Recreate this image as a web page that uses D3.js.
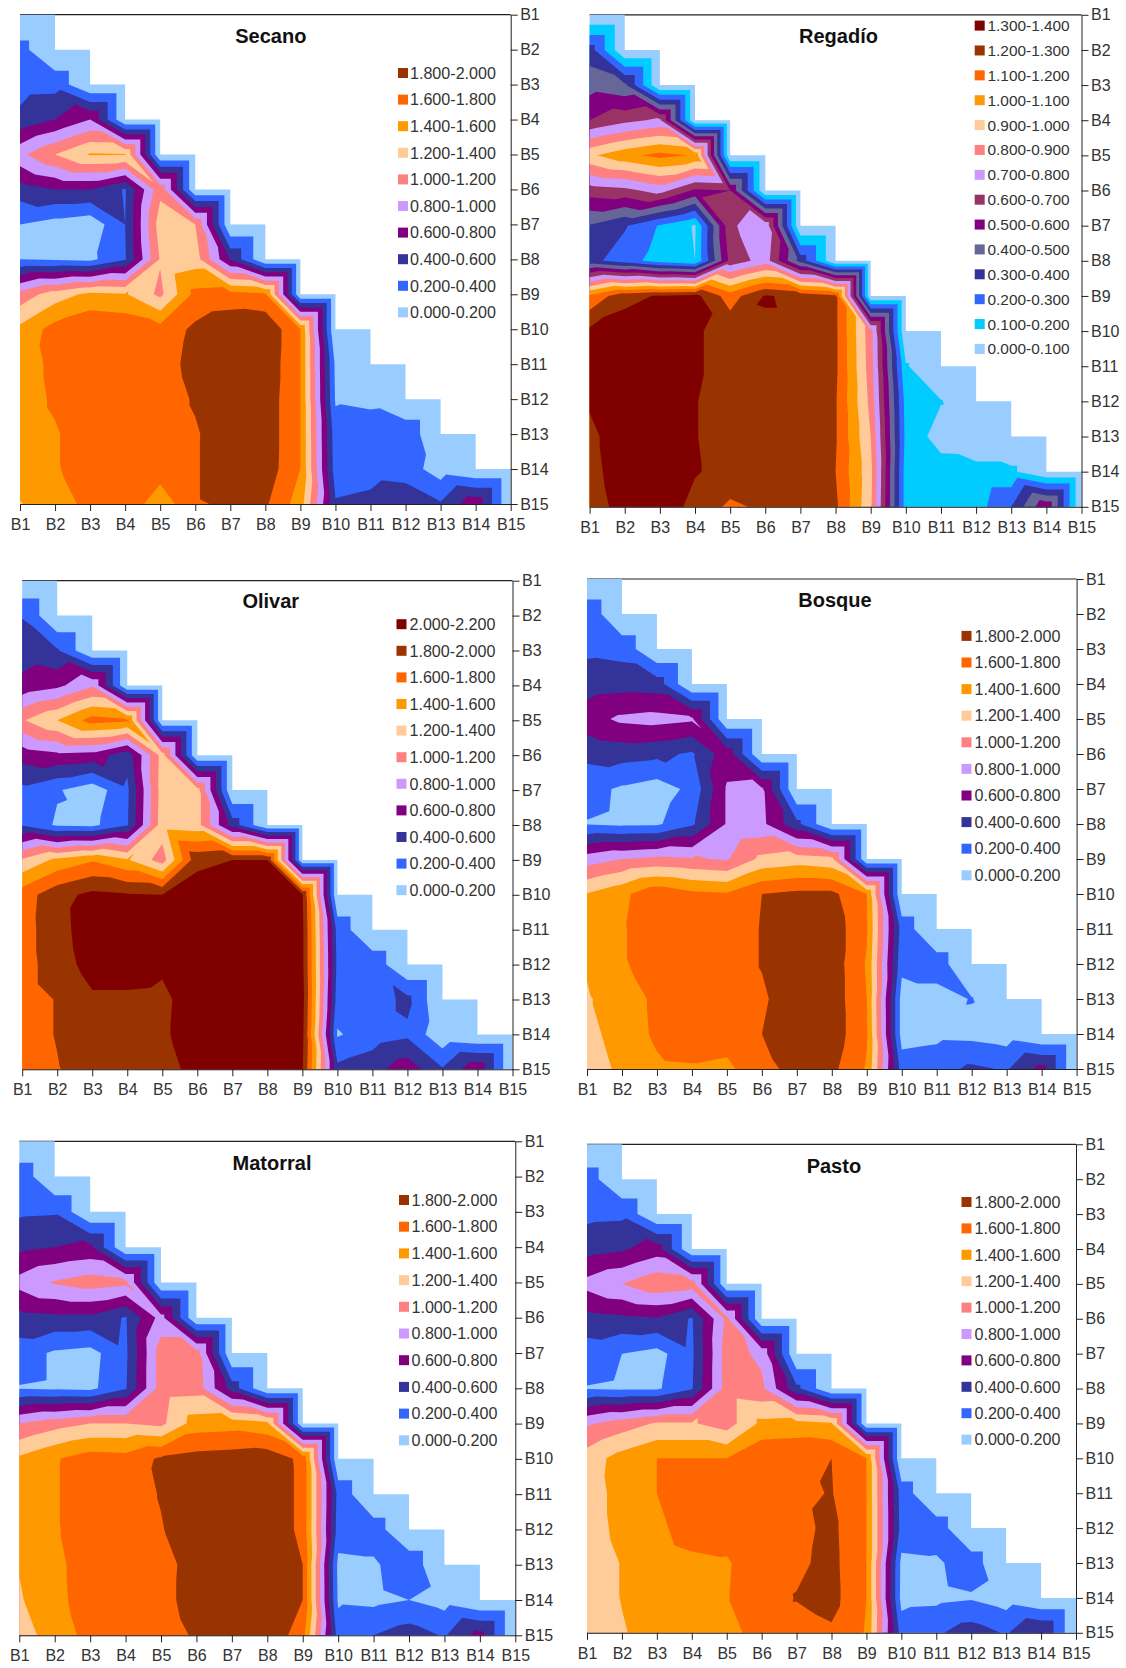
<!DOCTYPE html>
<html lang="en">

<head>
    <meta charset="UTF-8">
    <title>Contornos</title>
    <script src="https://d3js.org/d3.v7.min.js"></script>
    <style>
        body { margin: 0; background: #fff; }
        text { font-family: "Liberation Sans", Arial, sans-serif; }
    </style>
</head>

<body>
    <script>
        var blocks = ["B1", "B2", "B3", "B4", "B5", "B6", "B7", "B8", "B9", "B10", "B11", "B12", "B13", "B14", "B15"];

        // lower triangle only, rows B2..B15 and columns B1..; diagonal and above count as 0
        var secano = [
            [.27],
            [.32, .33],
            [.45, .6, .8],
            [.95, 1.2, 1.42, 1.41],
            [.5, .6, .6, .38, 1.15],
            [.2, .12, .06, .4, 1.3, 1.2],
            [.2, .18, .15, .38, 1.22, 1.3, .58],
            [1.08, 1.3, 1.45, 1.42, 1.15, 1.66, 1.68, 1.63],
            [1.45, 1.68, 1.78, 1.75, 1.68, 1.84, 1.95, 1.97, 1.6],
            [1.5, 1.65, 1.78, 1.75, 1.72, 1.86, 1.95, 1.95, 1.6, .16],
            [1.5, 1.63, 1.75, 1.72, 1.7, 1.82, 1.93, 1.93, 1.6, .18, .15],
            [1.5, 1.58, 1.72, 1.72, 1.7, 1.78, 1.92, 1.93, 1.6, .28, .32, .34],
            [1.5, 1.58, 1.7, 1.72, 1.7, 1.78, 1.93, 1.92, 1.6, .3, .33, .3, .1],
            [1.39, 1.5, 1.66, 1.75, 1.47, 1.78, 1.83, 1.83, 1.5, .42, .45, .55, .42, .75]
        ];
        var regadio = [
            [.35],
            [.46, .42],
            [.6, .67, .72],
            [.98, 1.07, 1.13, 1.09],
            [.65, .67, .74, .58, .6],
            [.39, .31, .19, .09, .68, .78],
            [.33, .25, .15, .1, .63, .75, .36],
            [1.12, 1.27, 1.31, 1.33, 1.15, 1.31, 1.27, 1.22],
            [1.32, 1.35, 1.36, 1.31, 1.27, 1.28, 1.28, 1.22, .84],
            [1.33, 1.36, 1.37, 1.31, 1.27, 1.27, 1.27, 1.22, .85, .11],
            [1.31, 1.36, 1.37, 1.303, 1.27, 1.27, 1.27, 1.21, .87, .16, .105],
            [1.28, 1.35, 1.37, 1.303, 1.27, 1.27, 1.27, 1.21, .9, .17, .055, .05],
            [1.27, 1.35, 1.37, 1.307, 1.27, 1.27, 1.27, 1.2, .93, .15, .15, .12, .12],
            [1.25, 1.34, 1.36, 1.27, 1.18, 1.22, 1.24, 1.22, .92, .15, .15, .155, .3, .59]
        ];
        var olivar = [
            [.39],
            [.5, .42],
            [.66, .75, .97],
            [1.18, 1.4, 1.68, 1.63],
            [.68, .75, .72, .47, 1.28],
            [.35, .22, .08, .36, 1.3, 1.28],
            [.38, .17, .15, .38, 1.32, 1.28, .5],
            [1.23, 1.45, 1.58, 1.42, 1.1, 1.95, 2.0, 2.0],
            [1.7, 1.93, 2.05, 2.02, 2.0, 2.1, 2.15, 2.15, 2.02],
            [1.72, 1.92, 2.12, 2.1, 2.1, 2.12, 2.15, 2.15, 2.05, .32],
            [1.72, 1.9, 2.08, 2.08, 2.03, 2.1, 2.15, 2.15, 2.05, .35, .33],
            [1.72, 1.81, 1.97, 1.97, 1.96, 2.1, 2.15, 2.15, 2.08, .3, .3, .45],
            [1.72, 1.81, 1.93, 1.95, 1.97, 2.1, 2.15, 2.15, 2.05, .18, .3, .36, .05],
            [1.7, 1.79, 1.88, 1.9, 1.92, 2.07, 2.13, 2.13, 2.02, .45, .52, .72, .42, .75]
        ];
        var bosque = [
            [.34],
            [.36, .33],
            [.5, .52, .5],
            [.72, .84, .87, .83],
            [.45, .48, .45, .37, .72],
            [.27, .17, .1, .25, .82, .83],
            [.19, .16, .17, .36, .82, .85, .45],
            [.9, 1.0, 1.05, 1.02, .98, 1.25, 1.3, 1.25],
            [1.41, 1.55, 1.75, 1.65, 1.62, 1.8, 1.85, 1.85, 1.6],
            [1.48, 1.58, 1.72, 1.7, 1.7, 1.81, 1.9, 1.92, 1.62, .31],
            [1.42, 1.58, 1.68, 1.7, 1.7, 1.81, 1.9, 1.92, 1.58, .25, .3],
            [1.38, 1.5, 1.64, 1.7, 1.7, 1.77, 1.92, 1.92, 1.6, .12, .12, .21],
            [1.33, 1.5, 1.63, 1.7, 1.7, 1.8, 1.92, 1.92, 1.62, .12, .15, .14, .1],
            [1.28, 1.45, 1.57, 1.58, 1.55, 1.75, 1.85, 1.85, 1.58, .3, .32, .44, .38, .67]
        ];
        var matorral = [
            [.33],
            [.37, .38],
            [.55, .6, .65],
            [.87, 1.02, 1.1, 1.05],
            [.53, .55, .55, .38, .88],
            [.3, .17, .13, .36, 1.1, 1.1],
            [.19, .17, .15, .38, 1.1, 1.12, .5],
            [1.0, 1.12, 1.2, 1.2, 1.15, 1.5, 1.52, 1.45],
            [1.44, 1.58, 1.7, 1.68, 1.83, 1.88, 1.9, 1.93, 1.75],
            [1.5, 1.58, 1.72, 1.72, 1.81, 1.9, 1.95, 1.95, 1.75, .33],
            [1.47, 1.58, 1.7, 1.72, 1.79, 1.9, 1.95, 1.95, 1.75, .3, .3],
            [1.41, 1.55, 1.7, 1.7, 1.74, 1.87, 1.95, 1.95, 1.8, .15, .17, .33],
            [1.38, 1.54, 1.7, 1.72, 1.74, 1.88, 1.95, 1.95, 1.8, .17, .15, .2, .12],
            [1.32, 1.48, 1.67, 1.68, 1.62, 1.85, 1.92, 1.97, 1.68, .3, .4, .5, .38, .68]
        ];
        var pasto = [
            [.3],
            [.35, .36],
            [.52, .57, .7],
            [.87, 1.0, 1.15, 1.1],
            [.52, .55, .58, .38, 1.05],
            [.3, .2, .13, .36, 1.1, .95],
            [.19, .17, .17, .38, 1.1, 1.05, .45],
            [.97, 1.1, 1.22, 1.22, 1.1, 1.45, 1.47, 1.42],
            [1.3, 1.48, 1.6, 1.6, 1.6, 1.77, 1.78, 1.8, 1.6],
            [1.32, 1.46, 1.6, 1.7, 1.7, 1.75, 1.76, 1.81, 1.6, .3],
            [1.3, 1.46, 1.55, 1.7, 1.68, 1.73, 1.74, 1.85, 1.6, .32, .3],
            [1.28, 1.41, 1.5, 1.55, 1.58, 1.72, 1.76, 1.86, 1.6, .15, .17, .3],
            [1.26, 1.41, 1.5, 1.56, 1.59, 1.7, 1.81, 1.87, 1.6, .14, .15, .18, .1],
            [1.22, 1.38, 1.5, 1.52, 1.5, 1.72, 1.72, 1.77, 1.58, .3, .37, .5, .38, .62]
        ];

        var bands200 = ["0.000-0.200", "0.200-0.400", "0.400-0.600", "0.600-0.800", "0.800-1.000", "1.000-1.200", "1.200-1.400", "1.400-1.600", "1.600-1.800", "1.800-2.000", "2.000-2.200"];
        var colors200 = ["#99ccff", "#3366ff", "#333399", "#800080", "#cc99ff", "#ff8080", "#ffcc99", "#ff9900", "#ff6600", "#993300", "#800000"];
        var bands100 = ["0.000-0.100", "0.100-0.200", "0.200-0.300", "0.300-0.400", "0.400-0.500", "0.500-0.600", "0.600-0.700", "0.700-0.800", "0.800-0.900", "0.900-1.000", "1.000-1.100", "1.100-1.200", "1.200-1.300", "1.300-1.400"];
        var colors100 = ["#99ccff", "#00ccff", "#3366ff", "#333399", "#666699", "#800080", "#993366", "#cc99ff", "#ff8080", "#ffcc99", "#ff9900", "#ff6600", "#993300", "#800000"];

        var panels = [
            { title: "Secano", rows: secano, bands: bands200.slice(0, 10), colors: colors200, box: [20, 510.7, 14.7, 504], titleAt: [270.8, 36.2], fs: 16.1, legend: [398, 410, 73, 26.6] },
            { title: "Regadío", rows: regadio, bands: bands100, colors: colors100, box: [589.6, 1081.5, 14.8, 506.8], titleAt: [838.5, 36], fs: 15.4, legend: [974.7, 987.5, 25.6, 24.87] },
            { title: "Olivar", rows: olivar, bands: bands200, colors: colors200, box: [22.2, 512.5, 580.7, 1069.3], titleAt: [270.8, 600.7], fs: 16.1, legend: [396.5, 409.5, 624.2, 26.6] },
            { title: "Bosque", rows: bosque, bands: bands200.slice(0, 10), colors: colors200, box: [587, 1076.6, 579, 1069], titleAt: [835, 599.7], fs: 16.1, legend: [961.5, 974.5, 635.9, 26.6] },
            { title: "Matorral", rows: matorral, bands: bands200.slice(0, 10), colors: colors200, box: [19.3, 515.3, 1141.3, 1635.3], titleAt: [272, 1163], fs: 16.1, legend: [399, 411.5, 1200, 26.7] },
            { title: "Pasto", rows: pasto, bands: bands200.slice(0, 10), colors: colors200, box: [587, 1076, 1144.3, 1632.8], titleAt: [833.9, 1165.5], fs: 16.1, legend: [961.5, 974.5, 1202, 26.4] }
        ];

        var svg = d3.select("body").append("svg")
            .attr("width", 1126)
            .attr("height", 1668);

        // keep the part of a triangle where value >= t
        function clipTriangle(tri, t) {
            var out = [];
            for (var i = 0; i < 3; i++) {
                var a = tri[i], b = tri[(i + 1) % 3];
                if (a[2] >= t) out.push(a);
                if ((a[2] >= t) != (b[2] >= t)) {
                    var k = (t - a[2]) / (b[2] - a[2]);
                    out.push([a[0] + k * (b[0] - a[0]), a[1] + k * (b[1] - a[1]), t]);
                }
            }
            return out;
        }

        panels.forEach(function (p) {
            var x = d3.scaleLinear().domain([0, 14]).range([p.box[0], p.box[1]]);
            var y = d3.scaleLinear().domain([0, 14]).range([p.box[2], p.box[3]]);
            var xAxis = d3.scalePoint().domain(blocks).range([p.box[0], p.box[1]]);
            var yAxis = d3.scalePoint().domain(blocks).range([p.box[2], p.box[3]]);
            var g = svg.append("g");

            function val(r, c) {
                return c < r ? p.rows[r - 1][c] : 0;
            }

            // line along the top, the first cell paints over it
            g.append("line")
                .attr("x1", p.box[0]).attr("x2", p.box[1])
                .attr("y1", p.box[2]).attr("y2", p.box[2])
                .attr("stroke", "#222").attr("stroke-width", 1.2);

            var line = d3.line().x(function (d) { return x(d[0]); }).y(function (d) { return y(d[1]); });

            p.bands.forEach(function (label, b) {
                var t = parseFloat(label.split("-")[0]);
                var d = "";
                for (var r = 0; r < 14; r++) {
                    for (var c = 0; c <= r; c++) {
                        var tl = [c, r, val(r, c)], tr = [c + 1, r, val(r, c + 1)];
                        var bl = [c, r + 1, val(r + 1, c)], br = [c + 1, r + 1, val(r + 1, c + 1)];
                        // split each cell along the diagonal with the higher values
                        var tris = tl[2] + br[2] > tr[2] + bl[2] ? [[tl, tr, br], [tl, br, bl]] : [[tl, tr, bl], [tr, br, bl]];
                        tris.forEach(function (tri) {
                            var poly = clipTriangle(tri, t);
                            if (poly.length > 2) d += line(poly) + "Z";
                        });
                    }
                }
                g.append("path").attr("d", d).attr("fill", p.colors[b]);
            });

            var bottom = g.append("g")
                .attr("transform", "translate(0," + p.box[3] + ")")
                .call(d3.axisBottom(xAxis).tickSize(7).tickSizeOuter(0).tickPadding(7.8));
            var right = g.append("g")
                .attr("transform", "translate(" + p.box[1] + ",0)")
                .call(d3.axisRight(yAxis).tickSize(7).tickSizeOuter(0).tickPadding(2.5));
            [bottom, right].forEach(function (a) {
                a.attr("font-family", null).attr("font-size", null);
                a.selectAll("text").attr("font-size", 16).attr("fill", "#333");
                a.selectAll("line,path").attr("stroke", "#222");
            });

            g.append("text")
                .attr("x", p.titleAt[0]).attr("y", p.titleAt[1]).attr("dy", ".35em")
                .attr("text-anchor", "middle")
                .attr("font-size", 20).attr("font-weight", "bold").attr("fill", "#111")
                .text(p.title);

            // legend reads from the top band down
            var n = p.bands.length;
            d3.range(n).forEach(function (i) {
                var b = n - 1 - i;
                var cy = p.legend[2] + i * p.legend[3];
                g.append("rect")
                    .attr("x", p.legend[0]).attr("y", cy - 5)
                    .attr("width", 10).attr("height", 10)
                    .attr("fill", p.colors[b]);
                g.append("text")
                    .attr("x", p.legend[1]).attr("y", cy).attr("dy", ".36em")
                    .attr("font-size", p.fs).attr("fill", "#333")
                    .text(p.bands[b]);
            });
        });
    </script>
</body>

</html>
